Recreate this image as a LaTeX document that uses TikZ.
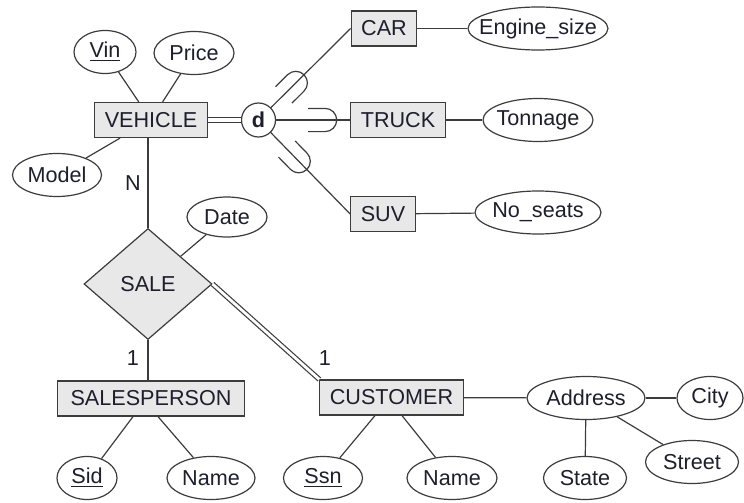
\documentclass[tikz,border=0pt]{standalone}
\usepackage{fontspec}
\setmainfont{Liberation Sans}
\usepackage{tikz}
\usetikzlibrary{shapes.geometric,positioning,decorations.markings}
\definecolor{erline}{RGB}{60,60,60}
\definecolor{erfill}{RGB}{232,232,232}
\definecolor{ertext}{RGB}{30,30,45}
\tikzstyle{entity} = [rectangle, draw=erline, fill=erfill, line width=0.6pt, minimum height=17.5pt, inner xsep=5pt, inner ysep=0pt, text=ertext]
\tikzstyle{attr} = [ellipse, draw=erline, fill=white, line width=0.6pt, minimum height=21.5pt, inner xsep=-5pt, inner ysep=0pt, text=ertext]
\tikzstyle{rel} = [diamond, draw=erline, fill=erfill, line width=0.6pt, minimum width=64pt, minimum height=55.5pt, inner sep=0pt, text=ertext]
\tikzstyle{conn} = [draw=erline, line width=0.6pt]
\tikzstyle{card} = [text=ertext, inner sep=0pt]
\tikzset{
  subset at/.style={postaction={decorate, decoration={markings,
    mark=at position #1 with {\draw[conn] (-8.5pt,5.8pt) -- (0,5.8pt) arc (90:-90:5.8pt) -- (-8.5pt,-5.8pt);}}}}
}

\begin{document}
\begin{tikzpicture}[x=0.5pt, y=-0.5pt, font=\fontsize{10.8}{13}\selectfont]
\useasboundingbox (0,0) rectangle (744,503);

% Superclass and specialization
\node[entity] (veh) at (151,120) {VEHICLE};
\node[circle, draw=erline, fill=white, line width=0.6pt, minimum size=17pt, inner sep=0pt, text=ertext, font=\fontsize{10.8}{13}\selectfont\bfseries] (d) at (258.5,120) {d};
\node[entity] (car) at (384,28.5) {CAR};
\node[entity] (truck) at (398,120) {TRUCK};
\node[entity] (suv) at (383,214) {SUV};

% Vehicle attributes
\node[attr, minimum width=31pt] (vin) at (105,52) {\underline{Vin}};
\node[attr, minimum width=40pt] (price) at (194,53) {Price};
\node[attr, minimum width=44.5pt] (model) at (57,175) {Model};
\node[attr, minimum width=70pt] (engine) at (538,28.5) {Engine\_size};
\node[attr, minimum width=55pt] (tonnage) at (538,120) {Tonnage};
\node[attr, minimum width=63pt] (seats) at (538,212.5) {No\_seats};

% Relationship
\node[rel] (sale) at (148,284) {SALE};
\node[attr, minimum width=40pt, minimum height=20pt] (date) at (227,217) {Date};
\node[entity, inner xsep=6.5pt] (sp) at (151,398.5) {SALESPERSON};
\node[entity] (cust) at (391.5,397.5) {CUSTOMER};

% Salesperson / customer attributes
\node[attr, minimum width=30pt] (sid) at (87,478) {\underline{Sid}};
\node[attr, minimum width=44pt] (spname) at (211,478) {Name};
\node[attr, minimum width=39.5pt] (ssn) at (323,478) {\underline{Ssn}};
\node[attr, minimum width=45pt] (cname) at (452,478) {Name};
\node[attr, minimum width=59pt] (addr) at (586,398) {Address};
\node[attr, minimum width=33pt] (city) at (710,398) {City};
\node[attr, minimum width=41.5pt] (state) at (585,478) {State};
\node[attr, minimum width=46.5pt] (street) at (692,462) {Street};

% Cardinalities
\node[card] (cn) at (133,183) {N};
\node[card] (c1) at (133,358) {1};
\node[card] (c2) at (325,358) {1};

% Lines
\draw[conn] (vin) -- (veh);
\draw[conn] (price) -- (veh);
\draw[conn] (model) -- (veh);
\draw[conn, double, double distance=2pt] (veh) -- (d);
\draw[conn, subset at=17.5pt] (d) -- (car.west);
\draw[conn, subset at=24.5pt] (d) -- (truck.west);
\draw[conn, subset at=20pt] (d) -- (suv.west);
\draw[conn] (car) -- (engine);
\draw[conn] (truck) -- (tonnage);
\draw[conn] (suv) -- (seats);

\draw[conn] (sale.north) -- (sale.north |- veh.south);
\draw[conn] (date) -- (sale);
\draw[conn] (sale.south) -- (sale.south |- sp.north);
\draw[conn, double, double distance=1.4pt] (sale.east) -- (cust.north west);

\draw[conn] (sid) -- ([xshift=-9pt]sp.south);
\draw[conn] (spname) -- ([xshift=3.5pt]sp.south);
\draw[conn] (ssn) -- ([xshift=-8.25pt]cust.south);
\draw[conn] (cname) -- ([xshift=5.25pt]cust.south);
\draw[conn] (cust) -- (addr);
\draw[conn] (addr) -- (city);
\draw[conn] (addr) -- (state);
\draw[conn] (addr) -- (street);
\end{tikzpicture}
\end{document}
